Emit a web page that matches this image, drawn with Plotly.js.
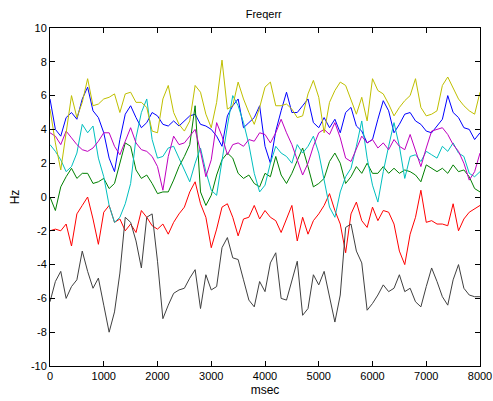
<!DOCTYPE html>
<html>
<head>
<meta charset="utf-8">
<script src="https://cdn.plot.ly/plotly-3.0.1.min.js"></script>
<style>html,body{margin:0;padding:0;background:#fff;}#chart{width:493px;height:401px;}</style>
</head>
<body>
<div id="chart"></div>
<script>
const msec = [0,100,200,300,400,500,600,700,800,900,1000,1100,1200,1300,1400,1500,1600,1700,1800,1900,
2000,2100,2200,2300,2400,2500,2600,2700,2800,2900,3000,3100,3200,3300,3400,3500,3600,3700,3800,3900,
4000,4100,4200,4300,4400,4500,4600,4700,4800,4900,5000,5100,5200,5300,5400,5500,5600,5700,5800,5900,
6000,6100,6200,6300,6400,6500,6600,6700,6800,6900,7000,7100,7200,7300,7400,7500,7600,7700,7800,7900,8000];

const blueHz = [5.8,4.0,3.6,4.7,5.0,4.6,5.8,6.5,5.1,4.7,3.8,2.3,1.5,3.4,4.9,5.4,4.7,4.1,4.4,5.0,
4.8,4.3,4.2,4.5,4.2,4.5,4.8,4.9,4.3,4.2,4.0,3.6,3.0,4.8,5.4,5.8,4.1,4.4,4.7,5.4,
3.0,2.0,3.9,5.1,6.2,5.0,5.0,5.4,5.8,4.4,4.1,4.7,4.1,4.6,3.8,5.0,5.3,4.2,3.9,3.2,
3.4,4.6,5.7,5.1,3.8,4.3,4.9,5.0,4.5,4.3,3.9,3.8,4.2,4.6,6.0,5.0,4.7,4.1,4.0,3.4,3.8];

const greenHz = [0.0,-0.8,0.6,1.2,1.7,1.1,1.4,1.4,0.8,0.9,1.1,0.5,0.8,2.0,3.2,3.0,1.6,1.1,1.3,0.8,
0.2,0.3,0.3,1.0,1.8,2.4,3.1,5.4,0.3,-0.5,0.1,1.3,2.2,2.6,2.3,1.4,1.1,1.3,0.8,0.6,
1.4,1.2,2.4,1.3,0.8,1.4,2.1,2.9,1.8,0.6,0.8,1.1,2.1,2.6,2.0,0.8,1.2,1.8,1.4,2.0,
1.4,1.4,1.8,1.4,1.7,1.4,1.6,1.5,1.3,0.9,1.9,1.7,1.5,1.7,1.4,1.9,1.5,1.6,1.2,0.5,0.3];

const redHz = [-2.0,-1.9,-2.0,-1.6,-2.9,-1.0,-0.5,0.0,-1.3,-2.8,-0.9,-0.5,-1.5,-1.3,-2.0,-1.6,-2.1,-0.8,-1.2,-1.7,
-1.9,-1.6,-2.2,-1.5,-1.0,-0.6,0.3,0.9,-0.4,-1.2,-3.0,-1.9,-0.6,-0.4,-1.2,-2.3,-1.3,-1.2,-0.5,-1.3,
-0.8,-1.2,-1.4,-2.1,-1.3,-0.5,-2.6,-1.2,-2.2,-1.4,-1.0,-0.5,0.2,-0.8,-1.6,-3.3,-1.0,-0.3,-1.4,-1.8,
-0.6,-1.4,-0.8,-0.9,-1.6,-3.2,-4.0,-2.2,-1.2,0.4,-1.5,-1.4,-1.6,-1.6,-1.7,-0.4,-2.0,-1.3,-0.9,-0.7,-0.5];

const cyanHz = [3.1,2.7,2.2,1.5,1.8,2.6,4.3,3.8,4.2,2.3,1.2,-0.5,-1.5,-1.2,-0.4,0.8,3.5,5.0,5.8,3.4,
2.3,2.4,2.9,3.0,2.3,1.6,0.9,2.0,2.9,1.5,0.4,0.1,2.2,4.2,6.0,5.4,4.4,3.1,1.4,0.3,
0.7,2.0,3.0,2.6,2.4,2.0,3.1,2.6,3.0,3.6,2.6,1.0,-0.6,-1.2,0.3,1.2,1.7,3.0,4.5,2.3,
0.7,-0.3,1.5,3.0,4.4,3.0,1.1,2.4,2.5,2.1,2.7,2.5,2.3,3.0,2.7,3.2,2.6,2.4,1.4,1.2,1.5];

const magentaHz = [3.8,3.6,3.1,3.9,3.5,3.1,2.8,2.7,2.9,3.3,3.8,3.8,3.0,2.5,3.3,4.1,3.2,2.8,2.7,2.4,
1.8,0.4,2.4,3.6,3.1,3.2,3.6,4.0,2.7,1.2,2.2,4.4,3.6,2.5,3.1,3.2,3.0,3.4,3.3,3.8,
3.7,3.2,3.8,4.6,3.8,3.1,2.2,1.3,2.0,3.0,3.8,4.0,3.7,4.4,3.5,2.3,2.1,2.9,3.6,3.2,
3.4,2.9,3.2,2.8,3.4,3.0,2.8,3.7,2.7,1.8,2.9,3.9,4.0,4.1,3.7,3.1,2.7,2.0,1.0,1.5,2.6];

const yellowHz = [5.2,3.2,1.6,3.8,6.0,4.7,5.6,7.0,5.4,5.5,5.8,5.9,6.1,5.0,6.1,6.2,5.6,5.6,5.3,3.9,
3.8,5.8,6.6,5.0,4.3,3.9,4.5,6.6,6.2,4.9,4.1,5.6,8.1,5.2,5.4,6.8,5.8,5.0,4.3,5.3,
6.5,6.8,5.4,5.4,5.5,5.2,4.7,4.8,6.1,6.9,5.9,3.8,5.6,6.3,6.8,6.6,5.8,4.9,5.9,4.5,
7.0,6.3,6.1,5.5,4.8,5.3,5.7,6.0,7.0,5.3,4.8,4.9,5.1,6.6,7.1,6.4,5.8,5.4,5.1,4.9,6.2];

const blackHz = [-6.2,-5.0,-4.4,-6.0,-5.3,-4.9,-3.2,-4.4,-5.4,-4.8,-6.4,-8.0,-6.8,-4.5,-1.2,-1.5,-2.6,-4.2,-1.2,-1.0,
-3.8,-7.2,-6.4,-5.7,-5.5,-5.4,-4.8,-4.3,-6.6,-4.6,-5.5,-5.3,-3.0,-2.4,-3.6,-3.7,-4.9,-6.1,-6.5,-5.0,
-5.6,-3.9,-3.3,-6.0,-6.1,-4.9,-3.8,-7.0,-6.6,-4.6,-5.2,-4.4,-5.8,-7.4,-5.8,-1.8,-1.6,-3.2,-3.9,-6.7,
-6.3,-5.8,-5.2,-5.6,-5.4,-4.6,-5.6,-5.4,-6.2,-6.5,-5.3,-4.2,-5.0,-5.9,-6.4,-4.9,-4.0,-5.4,-5.8,-5.9,-5.9];

const seriesList = [
  {y: blueHz, color: '#0000ff'},
  {y: greenHz, color: '#008000'},
  {y: redHz, color: '#ff0000'},
  {y: cyanHz, color: '#00bfbf'},
  {y: magentaHz, color: '#bf00bf'},
  {y: yellowHz, color: '#bfbf00'},
  {y: blackHz, color: '#404040'}
];

const xTicks = [0,1000,2000,3000,4000,5000,6000,7000,8000];
const yTicks = [-10,-8,-6,-4,-2,0,2,4,6,8,10];

const traces = seriesList.map(s => ({
  x: msec, y: s.y, type: 'scatter', mode: 'lines',
  line: {color: s.color, width: 1}, hoverinfo: 'skip', showlegend: false
}));

const axisCommon = {
  showgrid: false, zeroline: false, showline: true, linecolor: '#000', linewidth: 1,
  mirror: 'ticks', ticks: 'inside', ticklen: 5, tickcolor: '#000', tickwidth: 1,
  tickfont: {family: 'Liberation Sans, Arial, sans-serif', size: 11, color: '#000'}
};

const layout = {
  width: 493, height: 401,
  margin: {l: 50, r: 13, t: 28, b: 35},
  paper_bgcolor: '#fff', plot_bgcolor: '#fff',
  title: {text: 'Freqerr', x: 0.535, xanchor: 'center', y: 0.965, yanchor: 'middle',
          font: {family: 'Liberation Sans, Arial, sans-serif', size: 11, color: '#000'}},
  xaxis: Object.assign({}, axisCommon, {
    range: [0, 8000], tickvals: xTicks, ticktext: xTicks.map(String),
    title: {text: 'msec', standoff: 4, font: {family: 'Liberation Sans, Arial, sans-serif', size: 12, color: '#000'}}
  }),
  yaxis: Object.assign({}, axisCommon, {
    range: [-10, 10], tickvals: yTicks, ticktext: yTicks.map(String),
    title: {text: 'Hz', standoff: 8, font: {family: 'Liberation Sans, Arial, sans-serif', size: 12, color: '#000'}}
  })
};

Plotly.newPlot('chart', traces, layout, {displayModeBar: false, staticPlot: true});
</script>
</body>
</html>
